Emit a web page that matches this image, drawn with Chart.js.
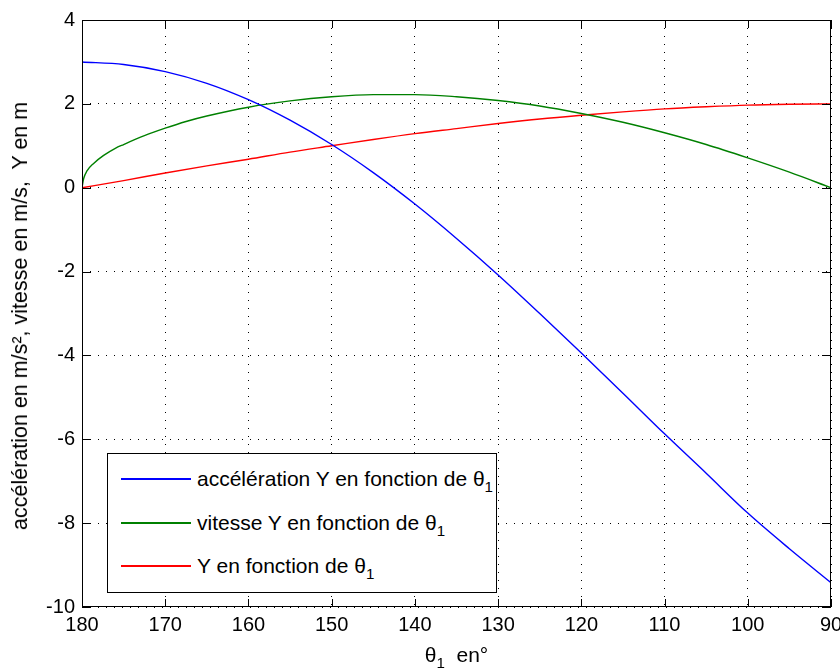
<!DOCTYPE html>
<html>
<head>
<meta charset="utf-8">
<script src="https://cdn.jsdelivr.net/npm/chart.js@4.4.0/dist/chart.umd.min.js"></script>
<style>
html,body{margin:0;padding:0;background:#fff;}
#wrap{position:relative;width:840px;height:670px;font-family:"Liberation Sans",Arial,sans-serif;color:#000;overflow:hidden;}
#chart{position:absolute;left:0;top:0;}
#legend{position:absolute;left:107px;top:453px;width:390px;height:140px;border:1px solid #000;background:#fff;box-sizing:border-box;}
.row{position:absolute;left:0;height:26px;line-height:26px;font-size:21px;white-space:pre;}
.sw{position:absolute;left:13px;width:70px;top:12px;height:0;border-top:2px solid;}
.lbl{position:absolute;left:89px;top:0;}
sub{font-size:0.72em;vertical-align:-0.4em;line-height:0;}
#xtitle{position:absolute;left:82px;width:749px;top:643px;text-align:center;font-size:21px;line-height:24px;white-space:pre;}
#ytitle{position:absolute;left:20px;top:316px;width:0;height:0;}
#ytitle span{position:absolute;left:0;top:0;transform:translate(-50%,-50%) rotate(-90deg);font-size:21.5px;line-height:24px;white-space:pre;}
</style>
</head>
<body>
<div id="wrap">
  <canvas id="chart" width="840" height="670"></canvas>
  <div id="legend"></div>
  <div id="xtitle">θ<sub>1</sub>  en°</div>
  <div id="ytitle"><span id="ytext"></span></div>
</div>
<script>
// ---- data ----
const THETA = [180,175,170,165,160,155,150,145,140,135,130,125,120,115,110,105,100,95,90];
const ACCELERATION = [3.00,2.94,2.77,2.49,2.10,1.61,1.03,0.36,-0.39,-1.21,-2.08,-3.00,-3.94,-4.90,-5.87,-6.81,-7.76,-8.61,-9.42];
const THETA_V = [180,179.8,179.4,178.6,177.4,176,175,172.5,170,167.5,165,160,155,150,145,140,135,130,125,120,115,110,105,100,95,90];
const VITESSE = [0,0.22,0.40,0.58,0.77,0.94,1.03,1.24,1.42,1.58,1.71,1.92,2.07,2.17,2.22,2.22,2.17,2.08,1.95,1.77,1.56,1.31,1.03,0.71,0.37,0];
const POSITION_Y = [0,0.17,0.35,0.52,0.68,0.85,1.00,1.15,1.29,1.41,1.53,1.64,1.73,1.81,1.88,1.93,1.97,1.99,2.00];
const X_TICKS = [180,170,160,150,140,130,120,110,100,90];
const Y_TICKS = [4,2,0,-2,-4,-6,-8,-10];
const SERIES_NAMES = ['accélération Y en fonction de ', 'vitesse Y en fonction de ', 'Y en fonction de '];
const SERIES_COLORS = ['#0000ff', '#008000', '#ff0000'];
const Y_TITLE = 'accélération en m/s², vitesse en m/s,  Y en m';

const FONT = '"Liberation Sans", Arial, sans-serif';

function pts(xs, ys){ return xs.map((x,i)=>({x:x, y:ys[i]})); }

const frame = {
  id:'frame',
  afterDraw(chart){
    const {ctx, chartArea:a, scales} = chart;
    ctx.save();
    ctx.strokeStyle = '#000';
    ctx.lineWidth = 1;
    ctx.setLineDash([]);
    ctx.strokeRect(Math.round(a.left)+0.5, Math.round(a.top)+0.5, Math.round(a.right-a.left)-1, Math.round(a.bottom-a.top)-1);
    ctx.beginPath();
    X_TICKS.forEach(v=>{
      const px = Math.round(scales.x.getPixelForValue(v))+0.5;
      ctx.moveTo(px, a.bottom); ctx.lineTo(px, a.bottom-8);
      ctx.moveTo(px, a.top); ctx.lineTo(px, a.top+8);
    });
    Y_TICKS.forEach(v=>{
      const py = Math.round(scales.y.getPixelForValue(v))+0.5;
      ctx.moveTo(a.left, py); ctx.lineTo(a.left+9, py);
      ctx.moveTo(a.right, py); ctx.lineTo(a.right-9, py);
    });
    ctx.stroke();
    ctx.restore();
  }
};

const datasets = [
  {label: SERIES_NAMES[0]+'θ1', data: pts(THETA, ACCELERATION)},
  {label: SERIES_NAMES[1]+'θ1', data: pts(THETA_V, VITESSE)},
  {label: SERIES_NAMES[2]+'θ1', data: pts(THETA, POSITION_Y)}
].map((d,i)=>Object.assign(d,{
  borderColor: SERIES_COLORS[i], backgroundColor: SERIES_COLORS[i],
  borderWidth: 1.4, pointRadius: 0, fill: false, cubicInterpolationMode: 'monotone'
}));

new Chart(document.getElementById('chart'), {
  type: 'line',
  data: {datasets},
  options: {
    responsive: false, animation: false, devicePixelRatio: 1,
    layout: {padding: {left: 0, right: 9, top: 20, bottom: 0}},
    plugins: {legend: {display: false}, tooltip: {enabled: false}},
    scales: {
      x: {
        type: 'linear', reverse: true, min: 90, max: 180,
        afterBuildTicks: s => { s.ticks = X_TICKS.map(v=>({value:v})); },
        afterFit: s => { s.height = 63; s.paddingLeft = 0; s.paddingRight = 0; },
        ticks: {color: '#000', font: {family: FONT, size: 20}, padding: 6, maxRotation: 0, autoSkip: false},
        grid: {color: '#000', lineWidth: 1, drawTicks: false},
        border: {display: false, dash: [1, 7]}
      },
      y: {
        type: 'linear', min: -10, max: 4,
        afterBuildTicks: s => { s.ticks = Y_TICKS.map(v=>({value:v})); },
        afterFit: s => { s.width = 82; s.paddingTop = 0; s.paddingBottom = 0; },
        ticks: {color: '#000', font: {family: FONT, size: 20}, padding: 7, autoSkip: false},
        grid: {color: '#000', lineWidth: 1, drawTicks: false},
        border: {display: false, dash: [1, 7]},
        title: {display: false, text: Y_TITLE}
      }
    }
  },
  plugins: [frame]
});

document.getElementById('ytext').textContent = Y_TITLE;

// HTML legend built from the series
const leg = document.getElementById('legend');
const rowTops = [12, 56, 99];
SERIES_NAMES.forEach((n,i)=>{
  const r = document.createElement('div');
  r.className = 'row';
  r.style.top = rowTops[i] + 'px';
  r.innerHTML = '<span class="sw" style="border-color:'+SERIES_COLORS[i]+'"></span><span class="lbl">'+n+'θ<sub>1</sub></span>';
  leg.appendChild(r);
});
</script>
</body>
</html>
